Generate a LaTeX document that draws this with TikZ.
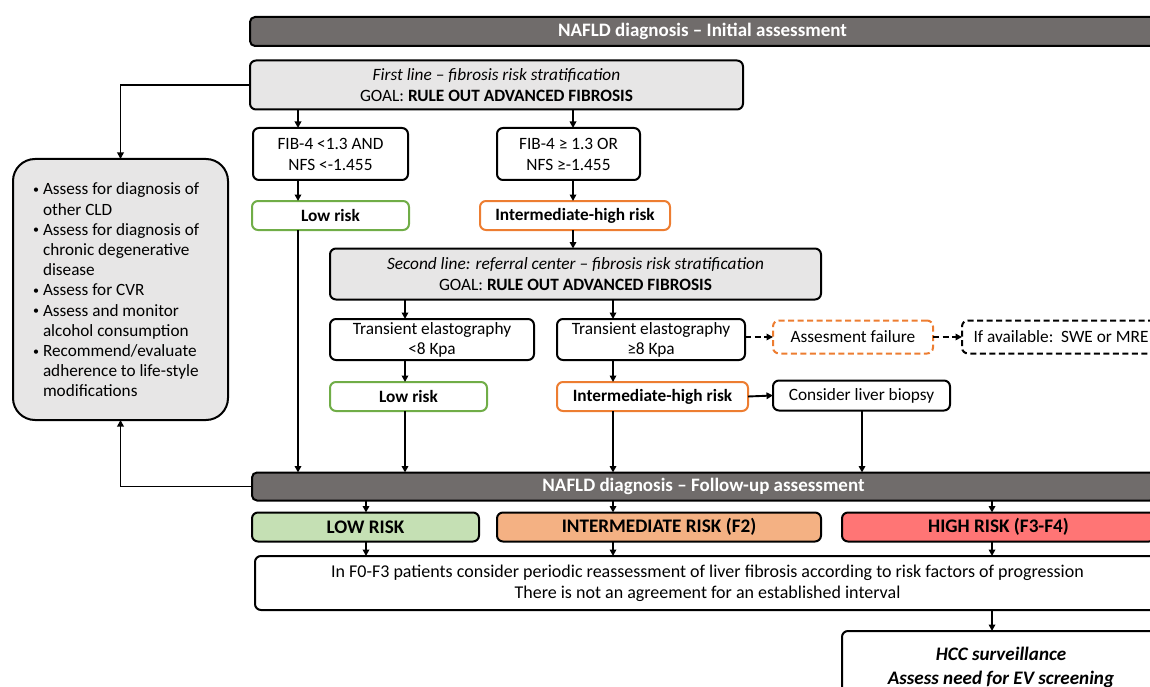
\documentclass[tikz,border=0pt]{standalone}
\usepackage{fontspec}
\setmainfont{Carlito}
\usetikzlibrary{arrows.meta}
\definecolor{barfill}{RGB}{112,108,107}
\definecolor{lgray}{RGB}{231,230,230}
\definecolor{gbord}{RGB}{112,173,71}
\definecolor{obord}{RGB}{237,125,49}
\definecolor{lowfill}{RGB}{197,224,180}
\definecolor{midfill}{RGB}{244,177,131}
\definecolor{highfill}{RGB}{255,117,117}
\newcommand\bul{\makebox[10pt][l]{\raisebox{1.5pt}{\fontsize{12}{12}\selectfont\textbullet}}}
\newcommand\ind{\hspace*{10pt}}
\begin{document}
\begin{tikzpicture}[x=1pt,y=-1pt,
  every node/.style={inner sep=0pt, outer sep=0pt},
  box/.style={draw=black, line width=2pt, rounded corners=6pt, align=center,
    font=\fontsize{17.3}{21}\selectfont, fill=white},
  graybox/.style={box, fill=lgray, font=\fontsize{17.3}{21.5}\selectfont},
  bar/.style={draw=black, line width=2pt, rounded corners=5pt, fill=barfill,
    text=white, font=\fontsize{19}{21}\selectfont\bfseries},
  greenbox/.style={box, draw=gbord, font=\fontsize{17.3}{21}\selectfont\bfseries},
  orangebox/.style={box, draw=obord, font=\fontsize{17.3}{21}\selectfont\bfseries},
  riskbox/.style={box, font=\fontsize{19.2}{21}\selectfont\bfseries},
  arr/.style={line width=1.9pt, -{Triangle[length=6.5pt,width=6.5pt]}},
  darr/.style={arr, dashed, dash pattern=on 6pt off 3.5pt},
]
\path[use as bounding box, clip] (0,0) rectangle (1150,687);

% column coordinates
\coordinate (c1) at (298,0);
\coordinate (c2) at (573,0);
\coordinate (c3) at (405,0);
\coordinate (c4) at (613,0);
\coordinate (c5) at (862,0);
\coordinate (c6) at (366,0);
\coordinate (c7) at (992,0);

% nodes
\node[bar, minimum width=905, minimum height=29] (top) at (702.5,31.5) {NAFLD diagnosis -- Initial assessment};
\node[graybox, minimum width=493, minimum height=49] (first) at (496.5,85)
  {\textit{First line -- fibrosis risk stratification}\\GOAL: \textbf{RULE OUT ADVANCED FIBROSIS}};
\node[graybox, rounded corners=22pt, minimum width=215, minimum height=261] (left) at (120.5,289.5) {};
\node[anchor=west, align=left, font=\fontsize{17.2}{20.2}\selectfont] (lefttxt) at (33,290)
  {\bul Assess for diagnosis of\\\ind other CLD\\\bul Assess for diagnosis of\\\ind chronic degenerative\\\ind disease\\\bul Assess for CVR\\\bul Assess and monitor\\\ind alcohol consumption\\\bul Recommend/evaluate\\\ind adherence to life-style\\\ind modifications};

\node[box, minimum width=155, minimum height=52] (fibA) at (330.5,154) {FIB-4 <1.3 AND\\NFS <-1.455};
\node[box, minimum width=143, minimum height=52] (fibB) at (568.5,154) {FIB-4 ≥ 1.3 OR\\NFS ≥-1.455};
\node[greenbox, minimum width=157, minimum height=29] (lowA) at (330.5,215.5) {Low risk};
\node[orangebox, minimum width=190, minimum height=29] (midA) at (575,215.5) {Intermediate-high risk};

\node[graybox, minimum width=491, minimum height=51] (second) at (575.5,274)
  {\textit{Second line: referral center -- fibrosis risk stratification}\\GOAL: \textbf{RULE OUT ADVANCED FIBROSIS}};
\node[box, font=\fontsize{17.3}{20}\selectfont, minimum width=204, minimum height=41] (teA) at (432,339.5) {Transient elastography\\<8 Kpa};
\node[box, font=\fontsize{17.3}{20}\selectfont, minimum width=188, minimum height=41] (teB) at (651,339.5) {Transient elastography\\≥8 Kpa};
\node[box, draw=obord, dashed, dash pattern=on 6pt off 3.5pt, minimum width=160, minimum height=33] (fail) at (853,337) {Assesment failure};
\node[box, dashed, dash pattern=on 6pt off 3.5pt, minimum width=198, minimum height=33] (ifav) at (1061,337) {If available:\ \ SWE or MRE};
\node[greenbox, minimum width=157, minimum height=29] (lowB) at (408.5,396.5) {Low risk};
\node[orangebox, minimum width=191, minimum height=29] (midB) at (652.5,396.5) {Intermediate-high risk};
\node[box, minimum width=177, minimum height=30] (biopsy) at (861.5,395.5) {Consider liver biopsy};

\node[bar, minimum width=903, minimum height=28] (fu) at (703.5,486.5) {NAFLD diagnosis -- Follow-up assessment};
\node[riskbox, fill=lowfill, minimum width=227, minimum height=29] (lowR) at (365.5,527) {LOW RISK};
\node[riskbox, fill=midfill, minimum width=324, minimum height=29] (midR) at (659,527) {INTERMEDIATE RISK (F2)};
\node[riskbox, fill=highfill, minimum width=313, minimum height=29] (highR) at (998.5,527) {HIGH RISK (F3-F4)};
\node[box, font=\fontsize{18}{21}\selectfont, minimum width=905, minimum height=54] (big) at (707.5,583)
  {In F0-F3 patients consider periodic reassessment of liver fibrosis according to risk factors of progression\\There is not an agreement for an established interval};
\node[box, font=\fontsize{19.1}{24}\selectfont\bfseries\itshape, minimum width=318, minimum height=72] (hcc) at (1001,667)
  {HCC surveillance\\Assess need for EV screening};

% connectors
\draw[arr] (first.south -| c1) -- (fibA.north -| c1);
\draw[arr] (first.south -| c2) -- (fibB.north -| c2);
\draw[arr] (fibA.south -| c1) -- (lowA.north -| c1);
\draw[arr] (fibB.south -| c2) -- (midA.north -| c2);
\draw[arr] (lowA.south -| c1) -- (fu.north -| c1);
\draw[arr] (midA.south -| c2) -- (second.north -| c2);
\draw[arr] (second.south -| c3) -- (teA.north -| c3);
\draw[arr] (second.south -| c4) -- (teB.north -| c4);
\draw[arr] (teA.south -| c3) -- (lowB.north -| c3);
\draw[arr] (teB.south -| c4) -- (midB.north -| c4);
\draw[darr] (teB.east |- fail.west) -- (fail.west);
\draw[darr] (fail.east) -- (ifav.west);
\draw[arr] (midB.east) -- (biopsy.west);
\draw[arr] (lowB.south -| c3) -- (fu.north -| c3);
\draw[arr] (midB.south -| c4) -- (fu.north -| c4);
\draw[arr] (biopsy.south -| c5) -- (fu.north -| c5);
\draw[arr] (first.west) -| (left.north);
\draw[arr] (fu.west) -| (left.south);
\draw[arr] (fu.south -| c6) -- (lowR.north -| c6);
\draw[arr] (fu.south -| c4) -- (midR.north -| c4);
\draw[arr] (fu.south -| c7) -- (highR.north -| c7);
\draw[arr] (lowR.south -| c6) -- (big.north -| c6);
\draw[arr] (midR.south -| c4) -- (big.north -| c4);
\draw[arr] (highR.south -| c7) -- (big.north -| c7);
\draw[arr] (big.south -| c7) -- (hcc.north -| c7);
\end{tikzpicture}
\end{document}
